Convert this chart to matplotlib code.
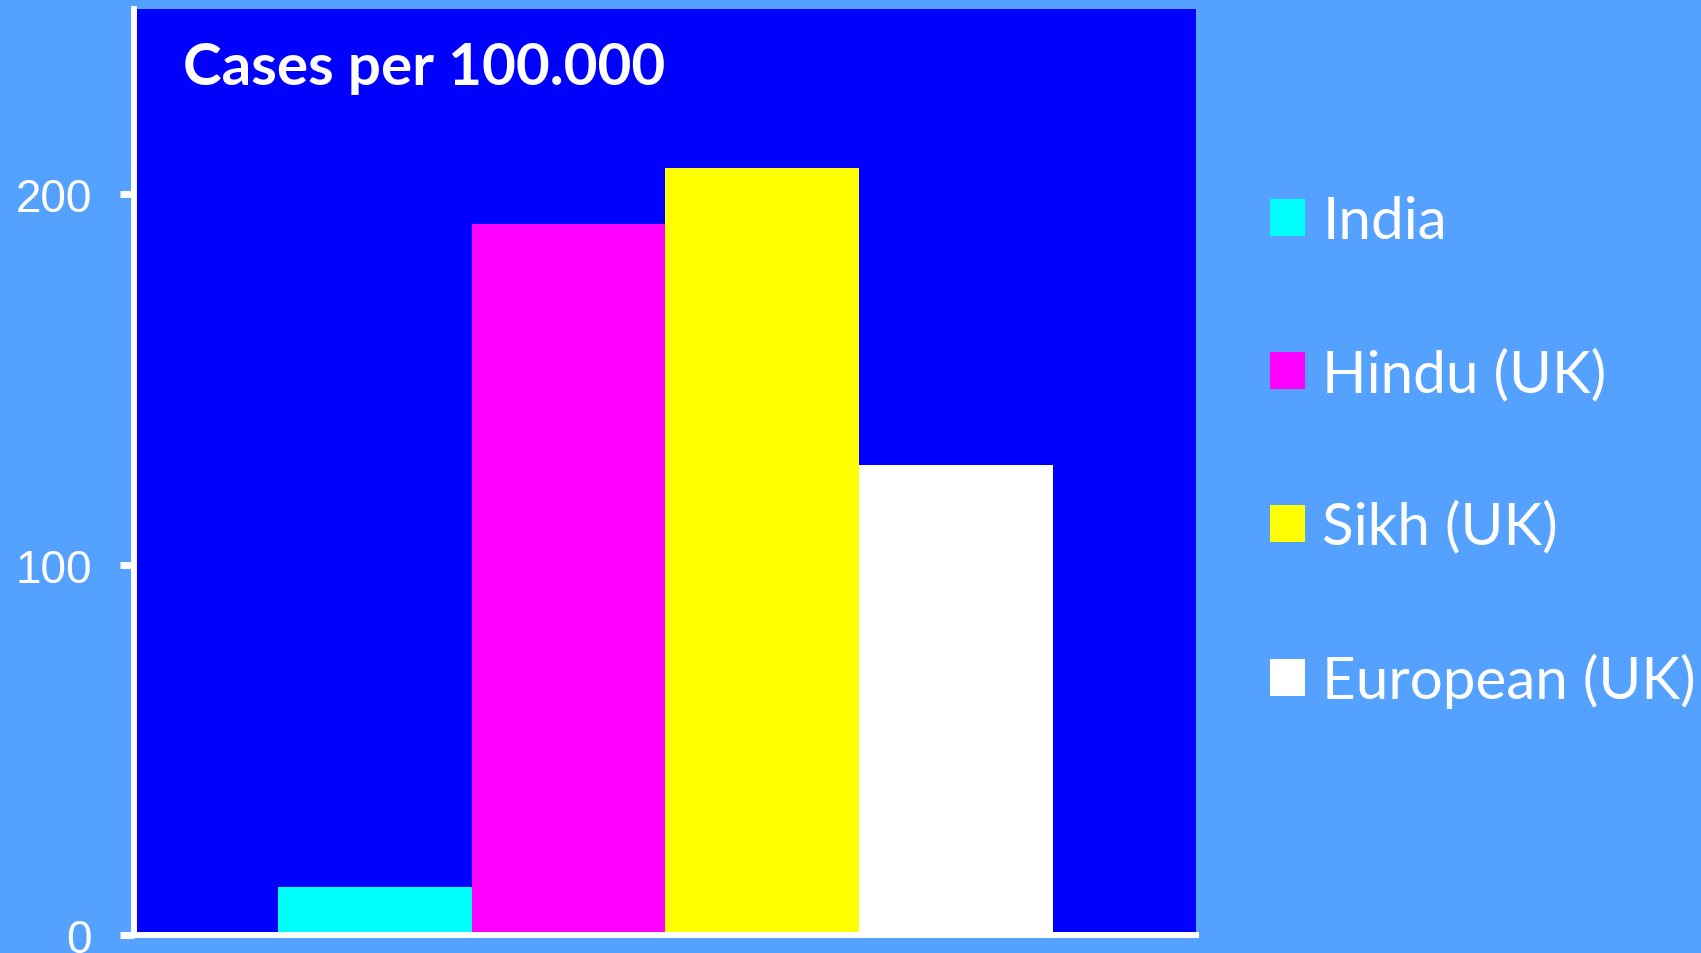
import matplotlib.pyplot as plt

# Incidence per 100.000 by group
groups = ["India", "Hindu (UK)", "Sikh (UK)", "European (UK)"]
cases = [13, 192, 207, 127]
bar_colors = ["#00FFFF", "#FF00FF", "#FFFF00", "#FFFFFF"]
yticks = [0, 100, 200]

page_bg = "#55A1FF"
plot_bg = "#0000FF"

fig = plt.figure(figsize=(17.01, 9.54), dpi=100, facecolor=page_bg)
ax = fig.add_axes([0.0785, 0.0189, 0.6246, 0.9706])
ax.set_facecolor(plot_bg)

positions = list(range(len(groups)))
bars = ax.bar(positions, cases, width=1.0, color=bar_colors, label=groups,
              linewidth=0)

ax.set_xlim(-1.246, 4.239)
ax.set_ylim(0, 250)

for side in ["top", "right"]:
    ax.spines[side].set_visible(False)
for side in ["left", "bottom"]:
    ax.spines[side].set_color("white")
    ax.spines[side].set_linewidth(4.3)
    ax.spines[side].set_zorder(5)

ax.set_xticks([])
ax.set_yticks(yticks)
ax.tick_params(axis="y", direction="out", length=10, width=5, color="white",
               labelcolor="white", labelsize=33, pad=20)
for lbl in ax.get_yticklabels():
    lbl.set_family("Liberation Sans")

fig.text(0.1076, 0.9109, "Cases per 100.000", color="white", fontsize=42,
         fontweight="bold", family="Lato", ha="left", va="baseline")

leg = ax.legend(handles=bars, labels=groups, loc="upper left",
                bbox_to_anchor=(0.7465, 0.7945), bbox_transform=fig.transFigure,
                frameon=False, handlelength=0.6, handleheight=0.6,
                handletextpad=0.3, labelspacing=1.70,
                borderpad=0, borderaxespad=0, prop={"family": "Lato", "size": 42})
for t in leg.get_texts():
    t.set_color("white")

fig.savefig("out.png", dpi=100, facecolor=page_bg)
